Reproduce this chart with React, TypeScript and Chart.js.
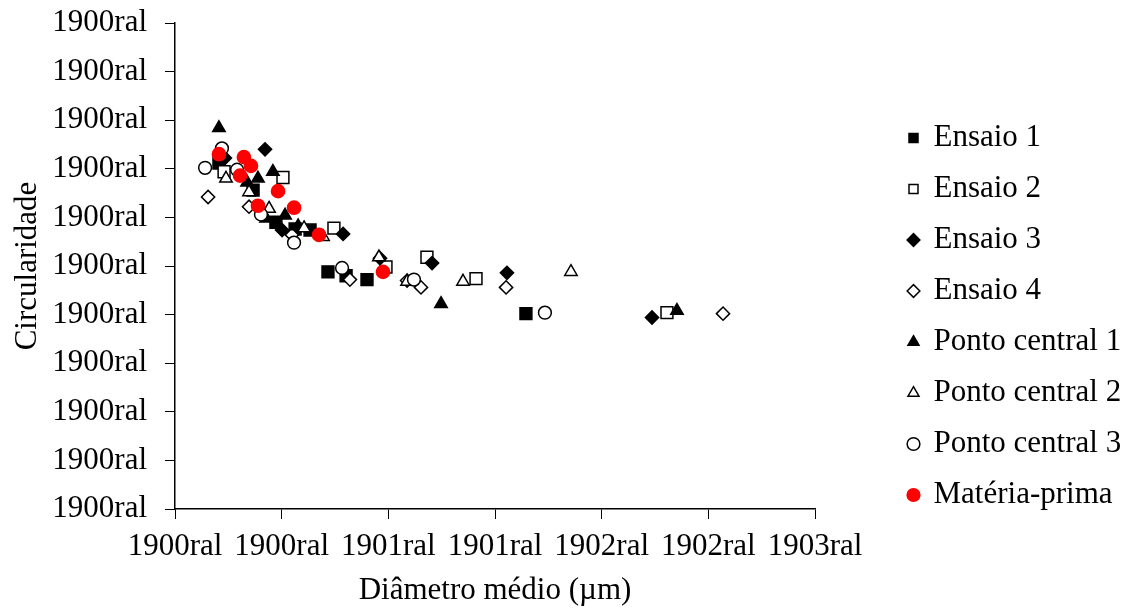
import React, { useEffect, useRef } from 'react';
import { Chart, registerables } from 'chart.js';

Chart.register(...registerables);

const FONT_FAMILY = "'Liberation Serif', 'Times New Roman', Times, serif";

const SERIES_NAMES = [
  'Ensaio 1',
  'Ensaio 2',
  'Ensaio 3',
  'Ensaio 4',
  'Ponto central 1',
  'Ponto central 2',
  'Ponto central 3',
  'Matéria-prima',
];

const X_TICK_LABELS = ['1900ral', '1900ral', '1901ral', '1901ral', '1902ral', '1902ral', '1903ral'];
const Y_TICK_LABELS = [
  '1900ral', '1900ral', '1900ral', '1900ral', '1900ral', '1900ral',
  '1900ral', '1900ral', '1900ral', '1900ral', '1900ral',
];
const X_TITLE = 'Diâmetro médio (µm)';
const Y_TITLE = 'Circularidade';

// Ensaio 1 (filled square)
const ENSAIO1_X = [0.206, 0.366, 0.473, 0.563, 0.633, 0.717, 0.802, 0.900, 1.645];
const ENSAIO1_Y = [0.856, 0.828, 0.795, 0.788, 0.787, 0.744, 0.740, 0.736, 0.701];

// Ensaio 2 (open square)
const ENSAIO2_X = [0.230, 0.506, 0.745, 0.989, 1.181, 1.411, 2.306];
const ENSAIO2_Y = [0.847, 0.841, 0.789, 0.749, 0.759, 0.737, 0.702];

// Ensaio 3 (filled diamond)
const ENSAIO3_X = [0.234, 0.422, 0.502, 0.788, 0.961, 1.205, 1.556, 2.236];
const ENSAIO3_Y = [0.861, 0.870, 0.787, 0.783, 0.758, 0.753, 0.743, 0.697];

// Ensaio 4 (open diamond)
const ENSAIO4_X = [0.155, 0.347, 0.548, 0.820, 1.088, 1.153, 1.552, 2.569];
const ENSAIO4_Y = [0.821, 0.811, 0.782, 0.736, 0.735, 0.728, 0.728, 0.701];

// Ponto central 1 (filled triangle)
const PC1_X = [0.206, 0.338, 0.389, 0.459, 0.427, 0.516, 0.577, 1.247, 2.353];
const PC1_Y = [0.892, 0.836, 0.840, 0.847, 0.799, 0.802, 0.791, 0.711, 0.704];

// Ponto central 2 (open triangle)
const PC2_X = [0.239, 0.347, 0.441, 0.605, 0.694, 0.956, 1.088, 1.350, 1.856];
const PC2_Y = [0.840, 0.826, 0.809, 0.789, 0.780, 0.759, 0.734, 0.734, 0.744];

// Ponto central 3 (open circle)
const PC3_X = [0.141, 0.220, 0.291, 0.403, 0.558, 0.783, 1.120, 1.734];
const PC3_Y = [0.851, 0.871, 0.849, 0.803, 0.774, 0.748, 0.736, 0.702];

// Matéria-prima (red circle)
const MP_X = [0.206, 0.323, 0.356, 0.305, 0.483, 0.389, 0.558, 0.675, 0.975];
const MP_Y = [0.865, 0.862, 0.853, 0.843, 0.827, 0.812, 0.810, 0.782, 0.744];

const W = 1132;
const H = 610;

export default function App() {
  const canvasRef = useRef<HTMLCanvasElement | null>(null);

  useEffect(() => {
    const canvas = canvasRef.current;
    if (!canvas) return;

    const pts = (xs: number[], ys: number[]) => xs.map((x, i) => ({ x, y: ys[i] }));
    const font = { family: FONT_FAMILY, size: 31 };

    const mk = (
      idx: number,
      xs: number[],
      ys: number[],
      style: string,
      bg: string,
      border: string,
      radius: number,
    ) => ({
      label: SERIES_NAMES[idx],
      data: pts(xs, ys),
      pointStyle: style,
      backgroundColor: bg,
      borderColor: border,
      borderWidth: 1.5,
      pointRadius: radius,
      pointHoverRadius: radius,
      showLine: false,
      order: 8 - idx,
    });

    const datasets = [
      mk(0, ENSAIO1_X, ENSAIO1_Y, 'rect', '#000000', '#000000', 8.4),
      mk(1, ENSAIO2_X, ENSAIO2_Y, 'rect', '#ffffff', '#000000', 8.4),
      mk(2, ENSAIO3_X, ENSAIO3_Y, 'rectRot', '#000000', '#000000', 6.6),
      mk(3, ENSAIO4_X, ENSAIO4_Y, 'rectRot', '#ffffff', '#000000', 6.6),
      mk(4, PC1_X, PC1_Y, 'triangle', '#000000', '#000000', 7.2),
      mk(5, PC2_X, PC2_Y, 'triangle', '#ffffff', '#000000', 7.2),
      mk(6, PC3_X, PC3_Y, 'circle', '#ffffff', '#000000', 6.4),
      mk(7, MP_X, MP_Y, 'circle', '#ff0000', '#ff0000', 6.6),
    ];

    const legendPlace = {
      id: 'legendPlace',
      beforeLayout(chart: any) {
        const lg = chart.legend;
        if (lg && !lg.__patched) {
          const orig = lg.fit.bind(lg);
          lg.fit = function () {
            orig();
            this.width = W - 815;
          };
          lg.__patched = true;
        }
      },
      afterLayout(chart: any) {
        const lg = chart.legend;
        if (!lg) return;
        lg.left = 889;
        lg.right = W;
        lg.top = 102.5;
        lg.bottom = H;
      },
    };

    const chart = new Chart(canvas, {
      type: 'scatter',
      data: { datasets: datasets as any },
      options: {
        responsive: false,
        animation: false,
        events: [],
        layout: { padding: { top: 23, left: 0, right: 0, bottom: 0 } },
        plugins: {
          legend: {
            position: 'right',
            align: 'start',
            labels: {
              usePointStyle: true,
              boxWidth: 9,
              boxHeight: 9,
              padding: 20,
              color: '#000000',
              font,
              sort: (a: any, b: any) => a.datasetIndex - b.datasetIndex,
            },
          },
          tooltip: { enabled: false },
        },
        scales: {
          x: {
            type: 'linear',
            min: 0,
            max: 3,
            ticks: {
              stepSize: 0.5,
              color: '#000000',
              font,
              padding: 9,
              maxRotation: 0,
              autoSkip: false,
              callback: (_v: any, i: number) => X_TICK_LABELS[i],
            },
            grid: { drawOnChartArea: false, drawTicks: true, tickLength: 10, color: '#000000', lineWidth: 1 },
            border: { display: true, color: '#000000', width: 1.5 },
            title: { display: true, text: X_TITLE, color: '#000000', font, padding: { top: 0, bottom: 1 } },
            afterFit: (s: any) => {
              s.height = H - 509;
              s.paddingLeft = 0;
              s.paddingRight = 0;
            },
          },
          y: {
            type: 'linear',
            min: 0.5,
            max: 1.0,
            ticks: {
              stepSize: 0.05,
              color: '#000000',
              font,
              padding: 18,
              autoSkip: false,
              callback: (_v: any, i: number) => Y_TICK_LABELS[i],
            },
            grid: { drawOnChartArea: false, drawTicks: true, tickLength: 10, color: '#000000', lineWidth: 1 },
            border: { display: true, color: '#000000', width: 1.5 },
            title: { display: true, text: Y_TITLE, color: '#000000', font, padding: { top: 9, bottom: 0 } },
            afterFit: (s: any) => {
              s.width = 175;
              s.paddingTop = 0;
              s.paddingBottom = 0;
            },
          },
        },
      } as any,
      plugins: [legendPlace as any],
    });

    return () => {
      chart.destroy();
    };
  }, []);

  return (
    <div style={{ position: 'absolute', left: 0, top: 0, width: W, height: H, background: '#ffffff' }}>
      <canvas ref={canvasRef} width={W} height={H} style={{ display: 'block', width: W, height: H }} />
    </div>
  );
}
